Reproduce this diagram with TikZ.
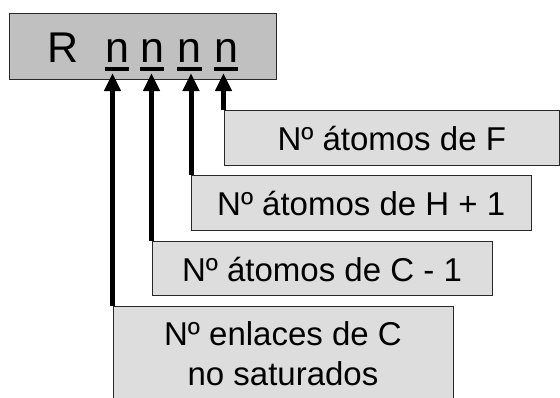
\documentclass[tikz,border=0pt]{standalone}
\usepackage{fontspec}
\setmainfont{Liberation Sans}
\usetikzlibrary{arrows.meta,calc}
\definecolor{boxgray}{RGB}{221,221,221}
\definecolor{topgray}{RGB}{192,192,192}
\definecolor{edgecol}{RGB}{40,40,40}
\begin{document}
\begin{tikzpicture}[x=1pt,y=-1pt,
  lbl/.style={font=\fontsize{33}{40}\selectfont, inner sep=0pt, anchor=base},
  big/.style={font=\fontsize{43}{50}\selectfont, inner sep=0pt, anchor=base},
  panel/.style={draw=edgecol, line width=1pt, fill=boxgray, inner sep=0pt},
  ptr/.style={line width=5pt, -{Triangle[length=18pt,width=16pt]}},
  uline/.style={line width=4pt}]
\useasboundingbox (0,0) rectangle (560,397);
\clip (0,0) rectangle (560,397);
% top box
\node[panel, fill=topgray, minimum width=267pt, minimum height=66.5pt] (top) at (142.5,46.25) {};
\node[big] (R) at (63,62.5) {R};
\node[big] (n1) at (117,62.5) {n};
\node[big] (n2) at (152,62.5) {n};
\node[big] (n3) at (189.5,62.5) {n};
\node[big] (n4) at (226,62.5) {n};
\foreach \k in {1,2,3,4}{
  \draw[uline] ($(n\k.base west)+(0,6.2)$) -- ($(n\k.base east)+(0,6.2)$);
}
% label boxes
\node[panel, minimum width=335.5pt, minimum height=55pt] (bF) at (391.75,137.5) {};
\node[panel, minimum width=339.5pt, minimum height=55pt] (bH) at (361.25,202.5) {};
\node[panel, minimum width=340pt, minimum height=54pt] (bC) at (322,268) {};
\node[panel, minimum width=340pt, minimum height=114pt] (bE) at (283,363) {};
\node[lbl] (tF) at (391.75,150) {Nº átomos de F};
\node[lbl] (tH) at (361.25,215) {Nº átomos de H + 1};
\node[lbl] (tC) at (322,281) {Nº átomos de C - 1};
\node[lbl] (tE1) at (283,345) {Nº enlaces de C};
\node[lbl] (tE2) at (283,385.7) {no saturados};
% arrows
\coordinate (tip) at (0,73);
\draw[ptr] (bE.north west) -- (bE.north west |- tip);
\draw[ptr] (bC.north west) -- (bC.north west |- tip);
\draw[ptr] (bH.north west) -- (bH.north west |- tip);
\draw[ptr] (bF.north west) -- (bF.north west |- tip);
\end{tikzpicture}
\end{document}
